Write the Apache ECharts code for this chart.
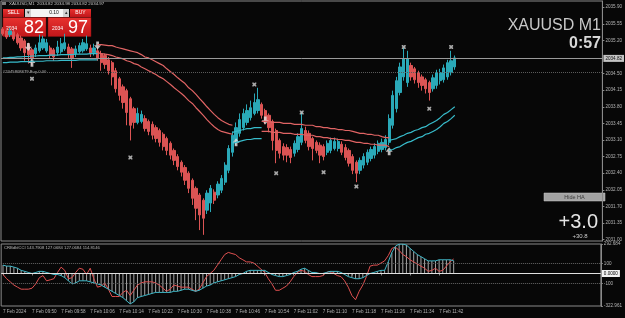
<!DOCTYPE html>
<html>
<head>
<meta charset="utf-8">
<script src="https://cdn.jsdelivr.net/npm/echarts@6/dist/echarts.min.js"></script>
<style>
  html, body { margin: 0; padding: 0; background: #070707; }
  #chart { width: 625px; height: 318px; }
</style>
</head>
<body>
<div id="chart"></div>
<script>
// XAUUSD M1, Heiken Ashi bars, 7 Feb 2024 09:42 .. 11:46
const haOpen = [
  2035.44, 2035.40, 2035.32, 2035.38, 2035.32, 2035.25, 2035.19, 2035.11, 2035.00, 2034.92,
  2034.98, 2035.04, 2034.98, 2035.04, 2035.00, 2034.94, 2034.96, 2035.02, 2035.06, 2035.02,
  2034.92, 2034.96, 2034.98, 2035.02, 2035.04, 2034.94, 2034.98, 2034.92, 2034.88, 2034.79,
  2034.73, 2034.56, 2034.39, 2034.22, 2034.14, 2033.97, 2033.76, 2033.47, 2033.49, 2033.55,
  2033.49, 2033.43, 2033.36, 2033.30, 2033.22, 2033.13, 2033.03, 2032.88, 2032.75, 2032.63,
  2032.52, 2032.40, 2032.25, 2032.08, 2031.94, 2031.83, 2031.62, 2031.77, 2032.00, 2031.94,
  2032.04, 2032.21, 2032.46, 2032.84, 2033.09, 2033.24, 2033.36, 2033.47, 2033.57, 2033.66,
  2033.72, 2033.85, 2033.72, 2033.62, 2033.49, 2033.30, 2033.09, 2032.96, 2032.94, 2032.90,
  2032.82, 2032.90, 2033.05, 2033.30, 2033.24, 2033.13, 2033.05, 2032.99, 2032.96, 2032.84,
  2032.88, 2032.92, 2032.92, 2033.01, 2032.94, 2032.88, 2032.75, 2032.63, 2032.46, 2032.57,
  2032.63, 2032.71, 2032.78, 2032.86, 2032.90, 2032.94, 2033.05, 2033.41, 2033.76, 2034.10,
  2034.43, 2034.31, 2034.67, 2034.60, 2034.52, 2034.43, 2034.37, 2034.31, 2034.18, 2034.25,
  2034.35, 2034.37, 2034.43, 2034.52, 2034.64
];
const haClose = [
  2035.34, 2035.27, 2035.40, 2035.23, 2035.15, 2035.04, 2034.94, 2034.90, 2034.81, 2035.04,
  2035.15, 2035.23, 2035.15, 2034.88, 2034.85, 2035.06, 2035.13, 2035.15, 2034.92, 2034.83,
  2035.02, 2035.09, 2035.15, 2035.13, 2034.92, 2035.04, 2034.83, 2034.73, 2034.69, 2034.56,
  2034.43, 2034.18, 2034.04, 2033.89, 2033.68, 2033.41, 2033.47, 2033.66, 2033.64, 2033.34,
  2033.28, 2033.20, 2033.13, 2033.05, 2032.96, 2032.88, 2032.78, 2032.67, 2032.54, 2032.42,
  2032.25, 2032.08, 2031.87, 2031.66, 2031.52, 2031.45, 2031.98, 2032.08, 2031.83, 2032.17,
  2032.29, 2032.57, 2032.92, 2033.20, 2033.36, 2033.53, 2033.66, 2033.72, 2033.78, 2033.89,
  2033.95, 2033.62, 2033.49, 2033.36, 2033.09, 2032.88, 2032.82, 2032.78, 2032.78, 2032.73,
  2033.03, 2033.17, 2033.34, 2033.09, 2032.96, 2032.92, 2032.88, 2032.78, 2032.75, 2033.03,
  2033.09, 2033.07, 2033.07, 2032.84, 2032.73, 2032.61, 2032.46, 2032.40, 2032.67, 2032.75,
  2032.84, 2032.90, 2032.96, 2033.03, 2033.05, 2033.11, 2033.55, 2034.04, 2034.35, 2034.64,
  2034.81, 2034.81, 2034.43, 2034.37, 2034.31, 2034.25, 2034.18, 2034.10, 2034.41, 2034.52,
  2034.52, 2034.62, 2034.73, 2034.77, 2034.83
];
const haLow = [
  2035.30, 2035.23, 2035.27, 2035.19, 2035.11, 2034.98, 2034.77, 2034.71, 2034.67, 2034.85,
  2034.94, 2035.00, 2034.94, 2034.81, 2034.77, 2034.88, 2034.92, 2034.98, 2034.83, 2034.62,
  2034.85, 2034.92, 2034.94, 2034.98, 2034.85, 2034.88, 2034.77, 2034.56, 2034.60, 2034.48,
  2034.25, 2034.10, 2033.93, 2033.76, 2033.41, 2033.09, 2033.34, 2033.43, 2033.45, 2033.28,
  2033.20, 2033.11, 2033.05, 2032.96, 2032.88, 2032.78, 2032.69, 2032.57, 2032.46, 2032.33,
  2032.15, 2031.98, 2031.73, 2031.41, 2031.20, 2031.10, 2031.54, 2031.58, 2031.75, 2031.87,
  2031.98, 2032.15, 2032.40, 2032.75, 2032.99, 2033.17, 2033.30, 2033.41, 2033.51, 2033.62,
  2033.66, 2033.55, 2033.43, 2033.26, 2032.88, 2032.61, 2032.71, 2032.67, 2032.63, 2032.61,
  2032.75, 2032.84, 2032.99, 2033.03, 2032.88, 2032.67, 2032.82, 2032.61, 2032.67, 2032.78,
  2032.82, 2032.88, 2032.86, 2032.78, 2032.67, 2032.54, 2032.38, 2032.21, 2032.38, 2032.50,
  2032.57, 2032.65, 2032.71, 2032.80, 2032.84, 2032.88, 2032.99, 2033.34, 2033.68, 2034.04,
  2034.35, 2034.22, 2034.35, 2034.29, 2034.20, 2034.14, 2034.08, 2033.93, 2034.12, 2034.18,
  2034.27, 2034.31, 2034.37, 2034.46, 2034.58
];
const haHigh = [
  2035.48, 2035.44, 2035.46, 2035.42, 2035.36, 2035.30, 2035.23, 2035.15, 2035.04, 2035.11,
  2035.32, 2035.30, 2035.23, 2035.09, 2035.04, 2035.19, 2035.25, 2035.34, 2035.13, 2035.06,
  2035.09, 2035.15, 2035.23, 2035.30, 2035.11, 2035.13, 2035.06, 2034.98, 2034.92, 2034.85,
  2034.77, 2034.62, 2034.43, 2034.27, 2034.18, 2034.01, 2033.80, 2033.78, 2033.72, 2033.62,
  2033.53, 2033.49, 2033.41, 2033.34, 2033.26, 2033.17, 2033.07, 2032.92, 2032.80, 2032.67,
  2032.57, 2032.44, 2032.29, 2032.12, 2031.98, 2031.87, 2032.04, 2032.15, 2032.06, 2032.23,
  2032.36, 2032.63, 2032.99, 2033.28, 2033.47, 2033.66, 2033.76, 2033.85, 2033.93, 2034.08,
  2034.20, 2033.89, 2033.76, 2033.66, 2033.53, 2033.34, 2033.13, 2033.03, 2033.01, 2032.96,
  2033.09, 2033.24, 2033.68, 2033.38, 2033.30, 2033.17, 2033.09, 2033.05, 2033.01, 2033.09,
  2033.15, 2033.15, 2033.13, 2033.07, 2033.01, 2032.92, 2032.80, 2032.67, 2032.73, 2032.82,
  2032.90, 2032.96, 2033.03, 2033.09, 2033.13, 2033.20, 2033.64, 2034.14, 2034.43, 2034.73,
  2035.04, 2034.98, 2034.73, 2034.64, 2034.56, 2034.48, 2034.41, 2034.35, 2034.48, 2034.58,
  2034.60, 2034.69, 2034.79, 2034.98, 2034.88
];

// trend band, split in segments (start bar given where the series is built)
const tealUpperA = [2034.83, 2034.83, 2034.84, 2034.84, 2034.85, 2034.85, 2034.86, 2034.86, 2034.87, 2034.87,
  2034.88, 2034.88, 2034.88, 2034.89, 2034.89, 2034.89, 2034.90, 2034.90, 2034.90, 2034.90,
  2034.91, 2034.91, 2034.91, 2034.91, 2034.92, 2034.92, 2034.92];
const tealLowerA = [2034.73, 2034.73, 2034.74, 2034.74, 2034.74, 2034.75, 2034.75, 2034.75, 2034.76, 2034.76,
  2034.76, 2034.76, 2034.77, 2034.77, 2034.77, 2034.77, 2034.78, 2034.78, 2034.78, 2034.78,
  2034.78, 2034.79, 2034.79, 2034.79, 2034.79, 2034.79, 2034.79];
const redUpperA = [2035.11, 2035.11, 2035.10, 2035.09, 2035.09, 2035.06, 2035.04, 2035.02, 2035.00, 2034.98,
  2034.96, 2034.94, 2034.90, 2034.85, 2034.83, 2034.79, 2034.75, 2034.71, 2034.67, 2034.60,
  2034.54, 2034.48, 2034.41, 2034.35, 2034.29, 2034.20, 2034.14, 2034.06, 2033.97, 2033.89,
  2033.80, 2033.72, 2033.64, 2033.57, 2033.51, 2033.47, 2033.43, 2033.41];
const redLowerA = [2034.94, 2034.92, 2034.91, 2034.90, 2034.88, 2034.85, 2034.83, 2034.81, 2034.77, 2034.75,
  2034.71, 2034.69, 2034.64, 2034.60, 2034.56, 2034.52, 2034.48, 2034.43, 2034.39, 2034.33,
  2034.27, 2034.20, 2034.14, 2034.08, 2034.01, 2033.93, 2033.87, 2033.78, 2033.70, 2033.62,
  2033.53, 2033.45, 2033.38, 2033.32, 2033.28, 2033.26, 2033.24, 2033.22];
const tealUpperB = [2033.26, 2033.28, 2033.30, 2033.32, 2033.34, 2033.34, 2033.36, 2033.36, 2033.36];
const tealLowerB = [2033.03, 2033.05, 2033.07, 2033.09, 2033.11, 2033.11, 2033.13, 2033.13, 2033.13];
const redUpperB = [2033.49, 2033.49, 2033.49, 2033.47, 2033.47, 2033.47, 2033.45, 2033.45, 2033.45, 2033.43,
  2033.43, 2033.43, 2033.41, 2033.41, 2033.41, 2033.38, 2033.38, 2033.36, 2033.36, 2033.34,
  2033.34, 2033.32, 2033.32, 2033.30, 2033.30, 2033.28, 2033.26, 2033.24, 2033.24, 2033.22,
  2033.22, 2033.20, 2033.20, 2033.17, 2033.15, 2033.15];
const redLowerB = [2033.28, 2033.28, 2033.28, 2033.26, 2033.26, 2033.26, 2033.24, 2033.24, 2033.24, 2033.22,
  2033.22, 2033.22, 2033.20, 2033.20, 2033.20, 2033.17, 2033.17, 2033.15, 2033.15, 2033.13,
  2033.13, 2033.11, 2033.11, 2033.09, 2033.09, 2033.07, 2033.05, 2033.05, 2033.03, 2033.03,
  2033.01, 2033.01, 2032.99, 2032.99, 2032.99, 2032.96];
const tealUpperC = [2033.09, 2033.11, 2033.13, 2033.17, 2033.20, 2033.24, 2033.26, 2033.30, 2033.32, 2033.36,
  2033.38, 2033.43, 2033.47, 2033.51, 2033.57, 2033.64, 2033.68, 2033.74, 2033.80];
const tealLowerC = [2032.88, 2032.90, 2032.94, 2032.96, 2033.01, 2033.05, 2033.07, 2033.11, 2033.15, 2033.17,
  2033.22, 2033.24, 2033.28, 2033.32, 2033.38, 2033.45, 2033.49, 2033.55, 2033.62];

// fractal marks and signal arrows: [bar, price]
const fractalMarks = [[8, 2034.39], [35, 2032.73], [69, 2034.27], [75, 2032.40], [82, 2033.68],
  [88, 2032.42], [97, 2032.12], [110, 2035.06], [117, 2033.76], [123, 2035.06]];
const arrowsDown = [[7, 2035.06], [26, 2035.09], [72, 2033.51]];
const arrowsUp = [[8, 2034.73], [64, 2033.05], [106, 2032.86]];

// double CCI sub-window
const cciFast = [
  -10, -52, -83, -115, -136, -156, -156, -156, -146, -104,
  -42, -21, -73, -63, -52, 10, 63, 31, -52, -42,
  10, 52, 42, -10, 52, -52, -136, -125, -94, -156,
  -229, -229, -229, -188, -167, -219, -167, -115, -94, -83,
  -83, -83, -94, -115, -146, -177, -156, -115, -125, -136,
  -136, -136, -156, -177, -156, -94, -31, 0, 31, 83,
  136, 188, 209, 198, 188, 156, 136, 115, 115, 104,
  73, 42, 10, -52, -104, -167, -167, -146, -125, -83,
  -31, 10, 31, 21, -10, -31, -31, -31, -21, 10,
  21, 0, -21, -31, -73, -136, -219, -261, -177, -115,
  -31, 73, 83, 83, 104, 125, 177, 250, 261, 229,
  188, 167, 136, 115, 94, 73, 52, 21, 31, 52,
  21, 31, 73, 115, 144
];
const cciSlow = [
  83, 73, 73, 63, 52, 31, 21, 10, 0, 10,
  21, 21, 10, 0, -10, -10, -21, -42, -73, -104,
  -94, -73, -73, -73, -83, -94, -104, -115, -136, -156,
  -177, -198, -219, -240, -271, -302, -282, -240, -229, -219,
  -209, -198, -188, -188, -188, -188, -188, -177, -177, -167,
  -156, -156, -167, -177, -167, -146, -125, -115, -94, -83,
  -73, -63, -52, -42, -31, -10, 0, 21, 31, 31,
  31, 31, 31, 10, -10, -21, -31, -31, -21, -10,
  10, 21, 42, 52, 31, 10, 10, 0, 0, 10,
  21, 21, 21, 10, -10, -31, -42, -52, -52, -42,
  -21, 0, 10, 21, 31, 31, 115, 209, 271, 292,
  292, 282, 250, 219, 188, 167, 146, 125, 125, 125,
  136, 136, 136, 136, 127
];

const priceTicks = [2035.90, 2035.55, 2035.20, 2034.50, 2034.15, 2033.80, 2033.45, 2033.10,
  2032.75, 2032.40, 2032.05, 2031.70, 2031.35, 2031.00];
const cciTicks = [292.684, 100, -100, -322.961];
const bidPrice = 2034.82;
const orderPrice = 2034.52;

const SLOTS = 165; // bars + right shift area
const categories = [];
for (let i = 0; i < SLOTS; i++) {
  const m = 9 * 60 + 42 + i;
  categories.push('7 Feb ' + String(Math.floor(m / 60)).padStart(2, '0') + ':' + String(m % 60).padStart(2, '0'));
}

const nBars = haOpen.length;
function spread(parts) {
  const out = new Array(nBars).fill(null);
  parts.forEach(([start, vals]) => vals.forEach((v, k) => { out[start + k] = v; }));
  return out;
}

const TEAL = '#2aa9b8';
const RED = '#dc5454';
const FONT = '"Liberation Sans", Arial, sans-serif';
const AXIS_TXT = '#b4b4b4';

const chart = echarts.init(document.getElementById('chart'));

const candleData = haOpen.map((o, i) => [o, haClose[i], haLow[i], haHigh[i]]);

const bandLine = (name, data, color) => ({
  name, type: 'line', xAxisIndex: 0, yAxisIndex: 0, data,
  symbol: 'none', connectNulls: false, silent: true,
  lineStyle: { color, width: 1.2 }
});

const ARROW_DOWN = 'path://M3,0L7,0L7,5L10,5L5,11L0,5L3,5Z';
const ARROW_UP = 'path://M5,0L10,6L7,6L7,11L3,11L3,6L0,6Z';
const CROSS = 'path://M0,0L3,0L5,2L7,0L10,0L10,3L8,5L10,7L10,10L7,10L5,8L3,10L0,10L0,7L2,5L0,3Z';

const redGrad = () => new echarts.graphic.LinearGradient(0, 0, 0, 1, [
  { offset: 0, color: '#e8322f' }, { offset: 1, color: '#c0161a' }
]);
const txt = (x, y, text, size, color, extra) => ({
  type: 'text', x, y, silent: true,
  style: Object.assign({ text, fontSize: size, fill: color, fontFamily: FONT }, extra || {})
});

chart.setOption({
  backgroundColor: '#070707',
  animation: false,
  grid: [
    { left: 1, top: 1, width: 606, height: 240, show: true, borderColor: '#8a8a8a', borderWidth: 1 },
    { left: 1, top: 244, width: 606, height: 62, show: true, borderColor: '#8a8a8a', borderWidth: 1 }
  ],
  xAxis: [
    { type: 'category', gridIndex: 0, data: categories, boundaryGap: true,
      axisLine: { show: false }, axisTick: { show: false }, axisLabel: { show: false }, splitLine: { show: false } },
    { type: 'category', gridIndex: 1, data: categories, boundaryGap: true,
      axisLine: { show: false },
      axisTick: { show: true, alignWithLabel: true, length: 2, lineStyle: { color: '#8a8a8a' },
        interval: (i) => i % 8 === 0 && i < nBars },
      axisLabel: { show: true, color: AXIS_TXT, fontSize: 4.6, fontFamily: FONT, align: 'left', margin: 3,
        interval: (i) => i % 8 === 0 && i < nBars,
        formatter: (v, i) => (i === 0 ? '7 Feb 2024' : v) },
      splitLine: { show: false } }
  ],
  yAxis: [
    { type: 'value', gridIndex: 0, position: 'right', min: 2030.97, max: 2036.03, scale: true,
      axisLine: { show: true, lineStyle: { color: '#8a8a8a' } },
      axisTick: { show: true, length: 2, customValues: priceTicks, lineStyle: { color: '#8a8a8a' } },
      axisLabel: { show: true, color: AXIS_TXT, fontSize: 4.6, fontFamily: FONT, margin: 3,
        customValues: priceTicks, formatter: (v) => v.toFixed(2) },
      splitLine: { show: false } },
    { type: 'value', gridIndex: 1, position: 'right', min: -322.961, max: 292.684,
      axisLine: { show: true, lineStyle: { color: '#8a8a8a' } },
      axisTick: { show: true, length: 2, customValues: cciTicks, lineStyle: { color: '#8a8a8a' } },
      axisLabel: { show: true, color: AXIS_TXT, fontSize: 4.6, fontFamily: FONT, margin: 3,
        customValues: cciTicks, formatter: (v) => String(v) },
      splitLine: { show: false } }
  ],
  series: [
    { name: 'HA', type: 'candlestick', xAxisIndex: 0, yAxisIndex: 0, data: candleData, barWidth: '76%',
      itemStyle: { color: TEAL, color0: RED, borderColor: TEAL, borderColor0: RED, borderWidth: 1 },
      markLine: {
        silent: true, symbol: ['none', 'none'],
        data: [
          { yAxis: bidPrice, lineStyle: { color: '#9a9a9a', width: 1, type: 'solid' },
            label: { show: true, position: 'end', distance: 1, formatter: bidPrice.toFixed(2), fontSize: 4.6,
              fontFamily: FONT, color: '#111', backgroundColor: '#c4c4c4', padding: [1, 2] } },
          { yAxis: orderPrice, lineStyle: { color: '#5a5a5a', width: 1, type: 'dotted' }, label: { show: false } }
        ]
      } },
    bandLine('tealUpper', spread([[0, tealUpperA], [63, tealUpperB], [106, tealUpperC]]), '#38bccb'),
    bandLine('tealLower', spread([[0, tealLowerA], [63, tealLowerB], [106, tealLowerC]]), '#38bccb'),
    bandLine('redUpper', spread([[26, redUpperA], [71, redUpperB]]), '#e06464'),
    bandLine('redLower', spread([[26, redLowerA], [71, redLowerB]]), '#e06464'),
    { name: 'fractals', type: 'scatter', xAxisIndex: 0, yAxisIndex: 0, data: fractalMarks,
      symbol: CROSS, symbolSize: 4, itemStyle: { color: '#cfcfcf' }, silent: true },
    { name: 'sell', type: 'scatter', xAxisIndex: 0, yAxisIndex: 0, data: arrowsDown,
      symbol: ARROW_DOWN, symbolSize: [7, 8], itemStyle: { color: '#e6e6e6' }, silent: true },
    { name: 'buy', type: 'scatter', xAxisIndex: 0, yAxisIndex: 0, data: arrowsUp,
      symbol: ARROW_UP, symbolSize: [7, 8], itemStyle: { color: '#e6e6e6' }, silent: true },
    { name: 'hist', type: 'bar', xAxisIndex: 1, yAxisIndex: 1, data: cciSlow, barWidth: 1,
      itemStyle: { color: '#a8a8a8' }, silent: true,
      markLine: {
        silent: true, symbol: ['none', 'none'],
        data: [
          { yAxis: 0, lineStyle: { color: '#e0e0e0', width: 1, type: 'solid' },
            label: { show: true, position: 'end', distance: 1, formatter: '0.0000', fontSize: 4.6,
              fontFamily: FONT, color: '#000', backgroundColor: '#f2f2f2', padding: [1, 2] } },
          { yAxis: 100, lineStyle: { color: '#666', width: 1, type: 'dotted' }, label: { show: false } },
          { yAxis: -100, lineStyle: { color: '#666', width: 1, type: 'dotted' }, label: { show: false } }
        ]
      } },
    { name: 'cciFast', type: 'line', xAxisIndex: 1, yAxisIndex: 1, data: cciFast, symbol: 'none',
      lineStyle: { color: '#e05050', width: 1 }, silent: true },
    { name: 'cciSlow', type: 'line', xAxisIndex: 1, yAxisIndex: 1, data: cciSlow, symbol: 'none',
      lineStyle: { color: '#3fb9c9', width: 1 }, silent: true }
  ],
  graphic: [
    // header line
    { type: 'rect', shape: { x: 2, y: 2, width: 4, height: 3 }, style: { fill: '#7a7a7a' }, silent: true },
    txt(9, 1.5, 'XAUUSD,M1  2034.82 2034.98 2034.82 2034.97', 4.4, '#c8c8c8'),
    // one-click trading panel
    { type: 'rect', shape: { x: 3, y: 9, width: 21, height: 8 }, style: { fill: redGrad() }, silent: true },
    txt(13.5, 13, 'SELL', 5, '#fff', { align: 'center', verticalAlign: 'middle' }),
    { type: 'rect', shape: { x: 25, y: 9, width: 44, height: 8 }, style: { fill: '#f4f4f4' }, silent: true },
    { type: 'rect', shape: { x: 25, y: 9, width: 6, height: 8 }, style: { fill: '#d0d0d0' }, silent: true },
    { type: 'rect', shape: { x: 63, y: 9, width: 6, height: 8 }, style: { fill: '#d0d0d0' }, silent: true },
    txt(28, 13, '▾', 5, '#333', { align: 'center', verticalAlign: 'middle' }),
    txt(66, 13, '▴', 5, '#333', { align: 'center', verticalAlign: 'middle' }),
    txt(54, 13, '0.10', 5, '#111', { align: 'center', verticalAlign: 'middle' }),
    { type: 'rect', shape: { x: 70, y: 9, width: 21, height: 8 }, style: { fill: redGrad() }, silent: true },
    txt(80.5, 13, 'BUY', 5, '#fff', { align: 'center', verticalAlign: 'middle' }),
    { type: 'rect', shape: { x: 3, y: 17.5, width: 43, height: 19 }, style: { fill: redGrad(), stroke: '#8a1010', lineWidth: 0.5 }, silent: true },
    { type: 'rect', shape: { x: 48, y: 17.5, width: 43, height: 19 }, style: { fill: redGrad(), stroke: '#8a1010', lineWidth: 0.5 }, silent: true },
    txt(6, 26.5, '2034', 5, '#fff'),
    txt(24, 19, '82', 18, '#fff'),
    txt(52, 26.5, '2034', 5, '#fff'),
    txt(68, 19, '97', 18, '#fff'),
    // order label
    txt(3, 69.5, '#2045808679 Buy 0.00', 4.2, '#b8b8b8'),
    // symbol / timer
    txt(601, 18, 'XAUUSD M1', 16, '#c8c8c8', { align: 'right' }),
    txt(601, 36, '0:57', 16, '#d8d8d8', { align: 'right', fontWeight: 'bold' }),
    // hide HA button
    { type: 'rect', shape: { x: 544, y: 193, width: 61, height: 8 }, style: { fill: '#a3a3a3', stroke: '#c8c8c8', lineWidth: 0.5 }, silent: true },
    txt(574.5, 197.2, 'Hide HA', 5.5, '#3a3a3a', { align: 'center', verticalAlign: 'middle' }),
    // profit
    txt(598, 212, '+3.0', 20, '#e4e4e4', { align: 'right' }),
    txt(580, 233, '+30.8', 6, '#cfcfcf', { align: 'center' }),
    // sub-window caption
    txt(4, 246, 'CRBdblCCI 143.7908 127.0684 127.0684 114.8146', 4.2, '#b8b8b8')
  ]
});
</script>
</body>
</html>
